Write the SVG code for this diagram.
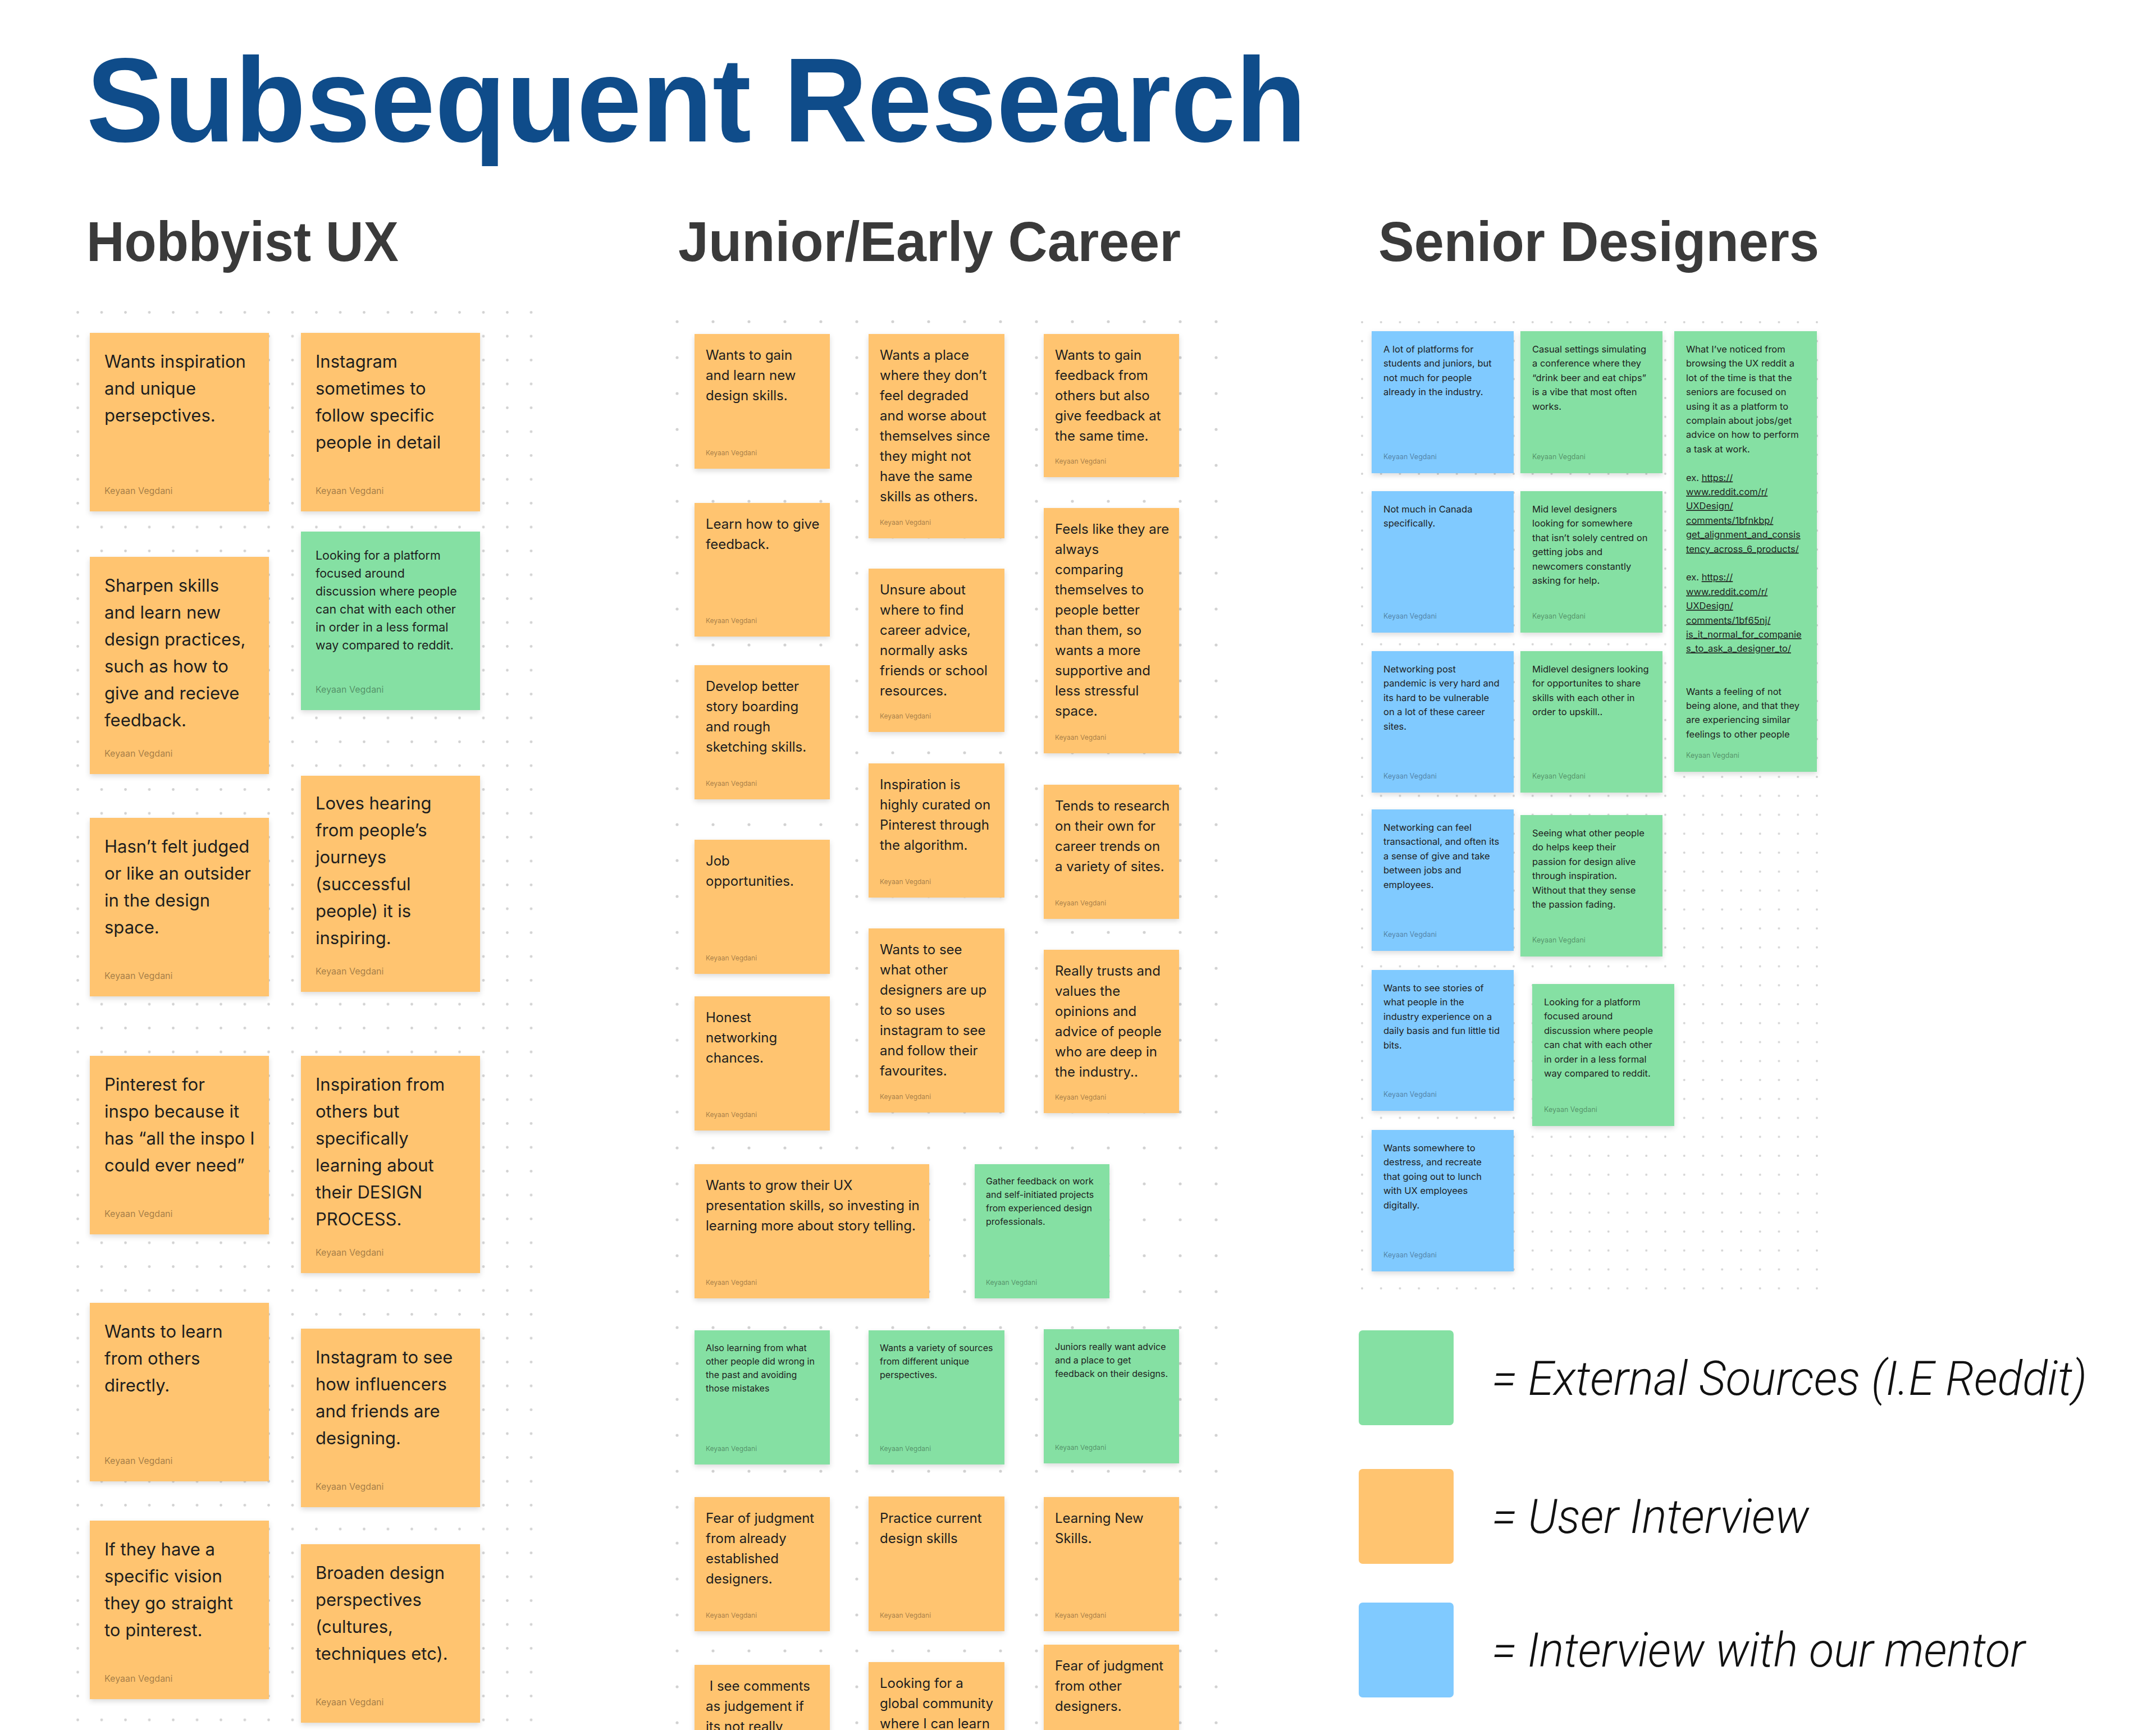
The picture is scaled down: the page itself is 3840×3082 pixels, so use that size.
<svg xmlns="http://www.w3.org/2000/svg" width="3840" height="3082" viewBox="0 0 3840 3082">
<defs>
<style>
.n{filter:url(#sh)}
.o{fill:#FFC470}.g{fill:#85E0A3}.b{fill:#80CAFF}
.t{font-family:Inter,"Noto Sans","Liberation Sans",sans-serif;fill:#1E1E1E}
.h1{font-size:31px}.h2{font-size:21.4px}.j1{font-size:24px}.j2{font-size:16px}.s1{font-size:16.5px}
.au{font-family:Inter,"Noto Sans","Liberation Sans",sans-serif;fill:#000;fill-opacity:0.38}
.ah{font-size:16px}.aj{font-size:12px}.as{font-size:12.5px}
.u{text-decoration:underline}
.title{font-family:"Liberation Sans",Arial,sans-serif;font-weight:700;fill:#0F4C8A}
.hd{font-family:"Liberation Sans",Arial,sans-serif;font-weight:700;fill:#3A3A3A}
.lg{font-family:Roboto,"Liberation Sans",sans-serif;font-weight:300;font-style:italic;font-size:86px;fill:#111}
</style>
<filter id="sh" x="-10%" y="-10%" width="120%" height="130%">
<feDropShadow dx="0" dy="4" stdDeviation="5" flood-color="#000" flood-opacity="0.14"/>
</filter>
<pattern id="pH" x="117.25" y="535.25" width="42.5" height="42.5" patternUnits="userSpaceOnUse"><circle cx="21.25" cy="21.25" r="2.4" fill="#D2D2D2"/></pattern>
<pattern id="pJ" x="1174" y="541" width="64" height="64" patternUnits="userSpaceOnUse"><circle cx="32" cy="32" r="2.6" fill="#D2D2D2"/></pattern>
<pattern id="pS" x="2409.125" y="557.125" width="33.75" height="33.75" patternUnits="userSpaceOnUse"><circle cx="16.875" cy="16.875" r="1.9" fill="#D2D2D2"/></pattern>
</defs>
<rect width="3840" height="3082" fill="#FFFFFF"/>

<g id="grids">
<rect x="130" y="548" width="826" height="2534" fill="url(#pH)"/>
<rect x="1198" y="565" width="976" height="2517" fill="url(#pJ)"/>
<rect x="2418" y="566" width="826" height="1737" fill="url(#pS)"/>
</g>

<g id="headings">
<text class="title" x="154" y="252" font-size="214" textLength="2173" lengthAdjust="spacingAndGlyphs">Subsequent Research</text>
<text class="hd" x="154" y="465" font-size="100" textLength="556" lengthAdjust="spacingAndGlyphs">Hobbyist UX</text>
<text class="hd" x="1208" y="465" font-size="100" textLength="895" lengthAdjust="spacingAndGlyphs">Junior/Early Career</text>
<text class="hd" x="2455" y="465" font-size="100" textLength="785" lengthAdjust="spacingAndGlyphs">Senior Designers</text>
</g>

<g id="connectors"></g>

<!-- Hobbyist UX -->
<g id="hobbyist">
<g id="h-a1"><rect class="n o" x="160" y="593" width="319" height="318"/><text class="t h1"><tspan x="186" y="655">Wants inspiration</tspan><tspan x="186" dy="48">and unique</tspan><tspan x="186" dy="48">persepctives.</tspan></text><text class="au ah" x="186" y="880">Keyaan Vegdani</text></g>
<g id="h-b1"><rect class="n o" x="536" y="593" width="319" height="318"/><text class="t h1"><tspan x="562" y="655">Instagram</tspan><tspan x="562" dy="48">sometimes to</tspan><tspan x="562" dy="48">follow specific</tspan><tspan x="562" dy="48">people in detail</tspan></text><text class="au ah" x="562" y="880">Keyaan Vegdani</text></g>
<g id="h-b2"><rect class="n g" x="536" y="947" width="319" height="318"/><text class="t h2"><tspan x="562" y="997">Looking for a platform</tspan><tspan x="562" dy="32">focused around</tspan><tspan x="562" dy="32">discussion where people</tspan><tspan x="562" dy="32">can chat with each other</tspan><tspan x="562" dy="32">in order in a less formal</tspan><tspan x="562" dy="32">way compared to reddit.</tspan></text><text class="au ah" x="562" y="1234">Keyaan Vegdani</text></g>
<g id="h-a2"><rect class="n o" x="160" y="992" width="319" height="387"/><text class="t h1"><tspan x="186" y="1054">Sharpen skills</tspan><tspan x="186" dy="48">and learn new</tspan><tspan x="186" dy="48">design practices,</tspan><tspan x="186" dy="48">such as how to</tspan><tspan x="186" dy="48">give and recieve</tspan><tspan x="186" dy="48">feedback.</tspan></text><text class="au ah" x="186" y="1348">Keyaan Vegdani</text></g>
<g id="h-b3"><rect class="n o" x="536" y="1382" width="319" height="385"/><text class="t h1"><tspan x="562" y="1442">Loves hearing</tspan><tspan x="562" dy="48">from people’s</tspan><tspan x="562" dy="48">journeys</tspan><tspan x="562" dy="48">(successful</tspan><tspan x="562" dy="48">people) it is</tspan><tspan x="562" dy="48">inspiring.</tspan></text><text class="au ah" x="562" y="1736">Keyaan Vegdani</text></g>
<g id="h-a3"><rect class="n o" x="160" y="1457" width="319" height="318"/><text class="t h1"><tspan x="186" y="1519">Hasn’t felt judged</tspan><tspan x="186" dy="48">or like an outsider</tspan><tspan x="186" dy="48">in the design</tspan><tspan x="186" dy="48">space.</tspan></text><text class="au ah" x="186" y="1744">Keyaan Vegdani</text></g>
<g id="h-a4"><rect class="n o" x="160" y="1881" width="319" height="318"/><text class="t h1"><tspan x="186" y="1943">Pinterest for</tspan><tspan x="186" dy="48">inspo because it</tspan><tspan x="186" dy="48">has “all the inspo I</tspan><tspan x="186" dy="48">could ever need”</tspan></text><text class="au ah" x="186" y="2168">Keyaan Vegdani</text></g>
<g id="h-b4"><rect class="n o" x="536" y="1881" width="319" height="387"/><text class="t h1"><tspan x="562" y="1943">Inspiration from</tspan><tspan x="562" dy="48">others but</tspan><tspan x="562" dy="48">specifically</tspan><tspan x="562" dy="48">learning about</tspan><tspan x="562" dy="48">their DESIGN</tspan><tspan x="562" dy="48">PROCESS.</tspan></text><text class="au ah" x="562" y="2237">Keyaan Vegdani</text></g>
<g id="h-a5"><rect class="n o" x="160" y="2321" width="319" height="318"/><text class="t h1"><tspan x="186" y="2383">Wants to learn</tspan><tspan x="186" dy="48">from others</tspan><tspan x="186" dy="48">directly.</tspan></text><text class="au ah" x="186" y="2608">Keyaan Vegdani</text></g>
<g id="h-b5"><rect class="n o" x="536" y="2367" width="319" height="318"/><text class="t h1"><tspan x="562" y="2429">Instagram to see</tspan><tspan x="562" dy="48">how influencers</tspan><tspan x="562" dy="48">and friends are</tspan><tspan x="562" dy="48">designing.</tspan></text><text class="au ah" x="562" y="2654">Keyaan Vegdani</text></g>
<g id="h-a6"><rect class="n o" x="160" y="2709" width="319" height="318"/><text class="t h1"><tspan x="186" y="2771">If they have a</tspan><tspan x="186" dy="48">specific vision</tspan><tspan x="186" dy="48">they go straight</tspan><tspan x="186" dy="48">to pinterest.</tspan></text><text class="au ah" x="186" y="2996">Keyaan Vegdani</text></g>
<g id="h-b6"><rect class="n o" x="536" y="2751" width="319" height="318"/><text class="t h1"><tspan x="562" y="2813">Broaden design</tspan><tspan x="562" dy="48">perspectives</tspan><tspan x="562" dy="48">(cultures,</tspan><tspan x="562" dy="48">techniques etc).</tspan></text><text class="au ah" x="562" y="3038">Keyaan Vegdani</text></g>
</g>

<!-- Junior / Early Career -->
<g id="junior">
<g id="j-1a"><rect class="n o" x="1237" y="595" width="241" height="240"/><text class="t j1"><tspan x="1257" y="641">Wants to gain</tspan><tspan x="1257" dy="36">and learn new</tspan><tspan x="1257" dy="36">design skills.</tspan></text><text class="au aj" x="1257" y="811">Keyaan Vegdani</text></g>
<g id="j-1b"><rect class="n o" x="1237" y="896" width="241" height="238"/><text class="t j1"><tspan x="1257" y="942">Learn how to give</tspan><tspan x="1257" dy="36">feedback.</tspan></text><text class="au aj" x="1257" y="1110">Keyaan Vegdani</text></g>
<g id="j-1c"><rect class="n o" x="1237" y="1185" width="241" height="239"/><text class="t j1"><tspan x="1257" y="1231">Develop better</tspan><tspan x="1257" dy="36">story boarding</tspan><tspan x="1257" dy="36">and rough</tspan><tspan x="1257" dy="36">sketching skills.</tspan></text><text class="au aj" x="1257" y="1400">Keyaan Vegdani</text></g>
<g id="j-1d"><rect class="n o" x="1237" y="1496" width="241" height="239"/><text class="t j1"><tspan x="1257" y="1542">Job</tspan><tspan x="1257" dy="36">opportunities.</tspan></text><text class="au aj" x="1257" y="1711">Keyaan Vegdani</text></g>
<g id="j-1e"><rect class="n o" x="1237" y="1775" width="241" height="239"/><text class="t j1"><tspan x="1257" y="1821">Honest</tspan><tspan x="1257" dy="36">networking</tspan><tspan x="1257" dy="36">chances.</tspan></text><text class="au aj" x="1257" y="1990">Keyaan Vegdani</text></g>
<g id="j-wide"><rect class="n o" x="1237" y="2074" width="418" height="239"/><text class="t j1"><tspan x="1257" y="2120">Wants to grow their UX</tspan><tspan x="1257" dy="36">presentation skills, so investing in</tspan><tspan x="1257" dy="36">learning more about story telling.</tspan></text><text class="au aj" x="1257" y="2289">Keyaan Vegdani</text></g>
<g id="j-gather"><rect class="n g" x="1736" y="2074" width="240" height="239"/><text class="t j2"><tspan x="1756" y="2110">Gather feedback on work</tspan><tspan x="1756" dy="24">and self-initiated projects</tspan><tspan x="1756" dy="24">from experienced design</tspan><tspan x="1756" dy="24">professionals.</tspan></text><text class="au aj" x="1756" y="2289">Keyaan Vegdani</text></g>
<g id="j-2a"><rect class="n o" x="1547" y="595" width="242" height="364"/><text class="t j1"><tspan x="1567" y="641">Wants a place</tspan><tspan x="1567" dy="36">where they don’t</tspan><tspan x="1567" dy="36">feel degraded</tspan><tspan x="1567" dy="36">and worse about</tspan><tspan x="1567" dy="36">themselves since</tspan><tspan x="1567" dy="36">they might not</tspan><tspan x="1567" dy="36">have the same</tspan><tspan x="1567" dy="36">skills as others.</tspan></text><text class="au aj" x="1567" y="935">Keyaan Vegdani</text></g>
<g id="j-2b"><rect class="n o" x="1547" y="1013" width="242" height="291"/><text class="t j1"><tspan x="1567" y="1059">Unsure about</tspan><tspan x="1567" dy="36">where to find</tspan><tspan x="1567" dy="36">career advice,</tspan><tspan x="1567" dy="36">normally asks</tspan><tspan x="1567" dy="36">friends or school</tspan><tspan x="1567" dy="36">resources.</tspan></text><text class="au aj" x="1567" y="1280">Keyaan Vegdani</text></g>
<g id="j-2c"><rect class="n o" x="1547" y="1360" width="242" height="239"/><text class="t j1"><tspan x="1567" y="1406">Inspiration is</tspan><tspan x="1567" dy="36">highly curated on</tspan><tspan x="1567" dy="36">Pinterest through</tspan><tspan x="1567" dy="36">the algorithm.</tspan></text><text class="au aj" x="1567" y="1575">Keyaan Vegdani</text></g>
<g id="j-2d"><rect class="n o" x="1547" y="1654" width="242" height="328"/><text class="t j1"><tspan x="1567" y="1700">Wants to see</tspan><tspan x="1567" dy="36">what other</tspan><tspan x="1567" dy="36">designers are up</tspan><tspan x="1567" dy="36">to so uses</tspan><tspan x="1567" dy="36">instagram to see</tspan><tspan x="1567" dy="36">and follow their</tspan><tspan x="1567" dy="36">favourites.</tspan></text><text class="au aj" x="1567" y="1958">Keyaan Vegdani</text></g>
<g id="j-3a"><rect class="n o" x="1859" y="595" width="241" height="255"/><text class="t j1"><tspan x="1879" y="641">Wants to gain</tspan><tspan x="1879" dy="36">feedback from</tspan><tspan x="1879" dy="36">others but also</tspan><tspan x="1879" dy="36">give feedback at</tspan><tspan x="1879" dy="36">the same time.</tspan></text><text class="au aj" x="1879" y="826">Keyaan Vegdani</text></g>
<g id="j-3b"><rect class="n o" x="1859" y="905" width="241" height="437"/><text class="t j1"><tspan x="1879" y="951">Feels like they are</tspan><tspan x="1879" dy="36">always</tspan><tspan x="1879" dy="36">comparing</tspan><tspan x="1879" dy="36">themselves to</tspan><tspan x="1879" dy="36">people better</tspan><tspan x="1879" dy="36">than them, so</tspan><tspan x="1879" dy="36">wants a more</tspan><tspan x="1879" dy="36">supportive and</tspan><tspan x="1879" dy="36">less stressful</tspan><tspan x="1879" dy="36">space.</tspan></text><text class="au aj" x="1879" y="1318">Keyaan Vegdani</text></g>
<g id="j-3c"><rect class="n o" x="1859" y="1398" width="241" height="239"/><text class="t j1"><tspan x="1879" y="1444">Tends to research</tspan><tspan x="1879" dy="36">on their own for</tspan><tspan x="1879" dy="36">career trends on</tspan><tspan x="1879" dy="36">a variety of sites.</tspan></text><text class="au aj" x="1879" y="1613">Keyaan Vegdani</text></g>
<g id="j-3d"><rect class="n o" x="1859" y="1692" width="241" height="291"/><text class="t j1"><tspan x="1879" y="1738">Really trusts and</tspan><tspan x="1879" dy="36">values the</tspan><tspan x="1879" dy="36">opinions and</tspan><tspan x="1879" dy="36">advice of people</tspan><tspan x="1879" dy="36">who are deep in</tspan><tspan x="1879" dy="36">the industry..</tspan></text><text class="au aj" x="1879" y="1959">Keyaan Vegdani</text></g>
<g id="j-g1"><rect class="n g" x="1237" y="2370" width="241" height="239"/><text class="t j2"><tspan x="1257" y="2407">Also learning from what</tspan><tspan x="1257" dy="24">other people did wrong in</tspan><tspan x="1257" dy="24">the past and avoiding</tspan><tspan x="1257" dy="24">those mistakes</tspan></text><text class="au aj" x="1257" y="2585">Keyaan Vegdani</text></g>
<g id="j-g2"><rect class="n g" x="1547" y="2370" width="242" height="239"/><text class="t j2"><tspan x="1567" y="2407">Wants a variety of sources</tspan><tspan x="1567" dy="24">from different unique</tspan><tspan x="1567" dy="24">perspectives.</tspan></text><text class="au aj" x="1567" y="2585">Keyaan Vegdani</text></g>
<g id="j-g3"><rect class="n g" x="1859" y="2368" width="241" height="239"/><text class="t j2"><tspan x="1879" y="2405">Juniors really want advice</tspan><tspan x="1879" dy="24">and a place to get</tspan><tspan x="1879" dy="24">feedback on their designs.</tspan></text><text class="au aj" x="1879" y="2583">Keyaan Vegdani</text></g>
<g id="j-o1"><rect class="n o" x="1237" y="2667" width="241" height="239"/><text class="t j1"><tspan x="1257" y="2713">Fear of judgment</tspan><tspan x="1257" dy="36">from already</tspan><tspan x="1257" dy="36">established</tspan><tspan x="1257" dy="36">designers.</tspan></text><text class="au aj" x="1257" y="2882">Keyaan Vegdani</text></g>
<g id="j-o2"><rect class="n o" x="1547" y="2666" width="242" height="240"/><text class="t j1"><tspan x="1567" y="2713">Practice current</tspan><tspan x="1567" dy="36">design skills</tspan></text><text class="au aj" x="1567" y="2882">Keyaan Vegdani</text></g>
<g id="j-o3"><rect class="n o" x="1859" y="2667" width="241" height="239"/><text class="t j1"><tspan x="1879" y="2713">Learning New</tspan><tspan x="1879" dy="36">Skills.</tspan></text><text class="au aj" x="1879" y="2882">Keyaan Vegdani</text></g>
<g id="j-l1"><rect class="n o" x="1237" y="2966" width="241" height="240"/><text class="t j1" xml:space="preserve"><tspan x="1257" y="3012"> I see comments</tspan><tspan x="1257" dy="36">as judgement if</tspan><tspan x="1257" dy="36">its not really</tspan></text></g>
<g id="j-l2"><rect class="n o" x="1547" y="2961" width="242" height="240"/><text class="t j1"><tspan x="1567" y="3007">Looking for a</tspan><tspan x="1567" dy="36">global community</tspan><tspan x="1567" dy="36">where I can learn</tspan></text></g>
<g id="j-l3"><rect class="n o" x="1859" y="2930" width="241" height="240"/><text class="t j1"><tspan x="1879" y="2976">Fear of judgment</tspan><tspan x="1879" dy="36">from other</tspan><tspan x="1879" dy="36">designers.</tspan></text></g>
</g>

<!-- Senior Designers -->
<g id="senior">
<g id="s-1a"><rect class="n b" x="2443" y="590" width="253" height="253"/><text class="t s1"><tspan x="2464" y="628">A lot of platforms for</tspan><tspan x="2464" dy="25.4">students and juniors, but</tspan><tspan x="2464" dy="25.4">not much for people</tspan><tspan x="2464" dy="25.4">already in the industry.</tspan></text><text class="au as" x="2464" y="818">Keyaan Vegdani</text></g>
<g id="s-1b"><rect class="n b" x="2443" y="875" width="253" height="252"/><text class="t s1"><tspan x="2464" y="913">Not much in Canada</tspan><tspan x="2464" dy="25.4">specifically.</tspan></text><text class="au as" x="2464" y="1102">Keyaan Vegdani</text></g>
<g id="s-1c"><rect class="n b" x="2443" y="1160" width="253" height="252"/><text class="t s1"><tspan x="2464" y="1198">Networking post</tspan><tspan x="2464" dy="25.4">pandemic is very hard and</tspan><tspan x="2464" dy="25.4">its hard to be vulnerable</tspan><tspan x="2464" dy="25.4">on a lot of these career</tspan><tspan x="2464" dy="25.4">sites.</tspan></text><text class="au as" x="2464" y="1387">Keyaan Vegdani</text></g>
<g id="s-1d"><rect class="n b" x="2443" y="1442" width="253" height="252"/><text class="t s1"><tspan x="2464" y="1480">Networking can feel</tspan><tspan x="2464" dy="25.4">transactional, and often its</tspan><tspan x="2464" dy="25.4">a sense of give and take</tspan><tspan x="2464" dy="25.4">between jobs and</tspan><tspan x="2464" dy="25.4">employees.</tspan></text><text class="au as" x="2464" y="1669">Keyaan Vegdani</text></g>
<g id="s-1e"><rect class="n b" x="2443" y="1728" width="253" height="251"/><text class="t s1"><tspan x="2464" y="1766">Wants to see stories of</tspan><tspan x="2464" dy="25.4">what people in the</tspan><tspan x="2464" dy="25.4">industry experience on a</tspan><tspan x="2464" dy="25.4">daily basis and fun little tid</tspan><tspan x="2464" dy="25.4">bits.</tspan></text><text class="au as" x="2464" y="1954">Keyaan Vegdani</text></g>
<g id="s-1f"><rect class="n b" x="2443" y="2013" width="253" height="252"/><text class="t s1"><tspan x="2464" y="2051">Wants somewhere to</tspan><tspan x="2464" dy="25.4">destress, and recreate</tspan><tspan x="2464" dy="25.4">that going out to lunch</tspan><tspan x="2464" dy="25.4">with UX employees</tspan><tspan x="2464" dy="25.4">digitally.</tspan></text><text class="au as" x="2464" y="2240">Keyaan Vegdani</text></g>
<g id="s-2a"><rect class="n g" x="2708" y="590" width="253" height="253"/><text class="t s1"><tspan x="2729" y="628">Casual settings simulating</tspan><tspan x="2729" dy="25.4">a conference where they</tspan><tspan x="2729" dy="25.4">“drink beer and eat chips”</tspan><tspan x="2729" dy="25.4">is a vibe that most often</tspan><tspan x="2729" dy="25.4">works.</tspan></text><text class="au as" x="2729" y="818">Keyaan Vegdani</text></g>
<g id="s-2b"><rect class="n g" x="2708" y="875" width="253" height="252"/><text class="t s1"><tspan x="2729" y="913">Mid level designers</tspan><tspan x="2729" dy="25.4">looking for somewhere</tspan><tspan x="2729" dy="25.4">that isn’t solely centred on</tspan><tspan x="2729" dy="25.4">getting jobs and</tspan><tspan x="2729" dy="25.4">newcomers constantly</tspan><tspan x="2729" dy="25.4">asking for help.</tspan></text><text class="au as" x="2729" y="1102">Keyaan Vegdani</text></g>
<g id="s-2c"><rect class="n g" x="2708" y="1160" width="253" height="252"/><text class="t s1"><tspan x="2729" y="1198">Midlevel designers looking</tspan><tspan x="2729" dy="25.4">for opportunites to share</tspan><tspan x="2729" dy="25.4">skills with each other in</tspan><tspan x="2729" dy="25.4">order to upskill..</tspan></text><text class="au as" x="2729" y="1387">Keyaan Vegdani</text></g>
<g id="s-2d"><rect class="n g" x="2708" y="1452" width="253" height="252"/><text class="t s1"><tspan x="2729" y="1490">Seeing what other people</tspan><tspan x="2729" dy="25.4">do helps keep their</tspan><tspan x="2729" dy="25.4">passion for design alive</tspan><tspan x="2729" dy="25.4">through inspiration.</tspan><tspan x="2729" dy="25.4">Without that they sense</tspan><tspan x="2729" dy="25.4">the passion fading.</tspan></text><text class="au as" x="2729" y="1679">Keyaan Vegdani</text></g>
<g id="s-2e"><rect class="n g" x="2729" y="1753" width="253" height="253"/><text class="t s1"><tspan x="2750" y="1791">Looking for a platform</tspan><tspan x="2750" dy="25.4">focused around</tspan><tspan x="2750" dy="25.4">discussion where people</tspan><tspan x="2750" dy="25.4">can chat with each other</tspan><tspan x="2750" dy="25.4">in order in a less formal</tspan><tspan x="2750" dy="25.4">way compared to reddit.</tspan></text><text class="au as" x="2750" y="1981">Keyaan Vegdani</text></g>
<g id="s-3"><rect class="n g" x="2982" y="590" width="254" height="785"/><text class="t s1"><tspan x="3003" y="628">What I’ve noticed from</tspan><tspan x="3003" dy="25.4">browsing the UX reddit a</tspan><tspan x="3003" dy="25.4">lot of the time is that the</tspan><tspan x="3003" dy="25.4">seniors are focused on</tspan><tspan x="3003" dy="25.4">using it as a platform to</tspan><tspan x="3003" dy="25.4">complain about jobs/get</tspan><tspan x="3003" dy="25.4">advice on how to perform</tspan><tspan x="3003" dy="25.4">a task at work.</tspan><tspan x="3003" dy="50.8">ex. </tspan><tspan class="u">https://</tspan><tspan class="u" x="3003" dy="25.4">www.reddit.com/r/</tspan><tspan class="u" x="3003" dy="25.4">UXDesign/</tspan><tspan class="u" x="3003" dy="25.4">comments/1bfnkbp/</tspan><tspan class="u" x="3003" dy="25.4">get_alignment_and_consis</tspan><tspan class="u" x="3003" dy="25.4">tency_across_6_products/</tspan><tspan x="3003" dy="50.8">ex. </tspan><tspan class="u">https://</tspan><tspan class="u" x="3003" dy="25.4">www.reddit.com/r/</tspan><tspan class="u" x="3003" dy="25.4">UXDesign/</tspan><tspan class="u" x="3003" dy="25.4">comments/1bf65nj/</tspan><tspan class="u" x="3003" dy="25.4">is_it_normal_for_companie</tspan><tspan class="u" x="3003" dy="25.4">s_to_ask_a_designer_to/</tspan><tspan x="3003" dy="76.2">Wants a feeling of not</tspan><tspan x="3003" dy="25.4">being alone, and that they</tspan><tspan x="3003" dy="25.4">are experiencing similar</tspan><tspan x="3003" dy="25.4">feelings to other people</tspan></text><text class="au as" x="3003" y="1350">Keyaan Vegdani</text></g>
</g>

<!-- Legend -->
<g id="legend">
<g id="legend-external"><rect class="g" x="2420" y="2370" width="169" height="169" rx="7"/><text class="lg" x="2657" y="2485" textLength="1060" lengthAdjust="spacingAndGlyphs">= External Sources (I.E Reddit)</text></g>
<g id="legend-user"><rect class="o" x="2420" y="2617" width="169" height="169" rx="7"/><text class="lg" x="2657" y="2731" textLength="565" lengthAdjust="spacingAndGlyphs">= User Interview</text></g>
<g id="legend-mentor"><rect class="b" x="2420" y="2855" width="169" height="169" rx="7"/><text class="lg" x="2657" y="2969" textLength="950" lengthAdjust="spacingAndGlyphs">= Interview with our mentor</text></g>
</g>
</svg>
